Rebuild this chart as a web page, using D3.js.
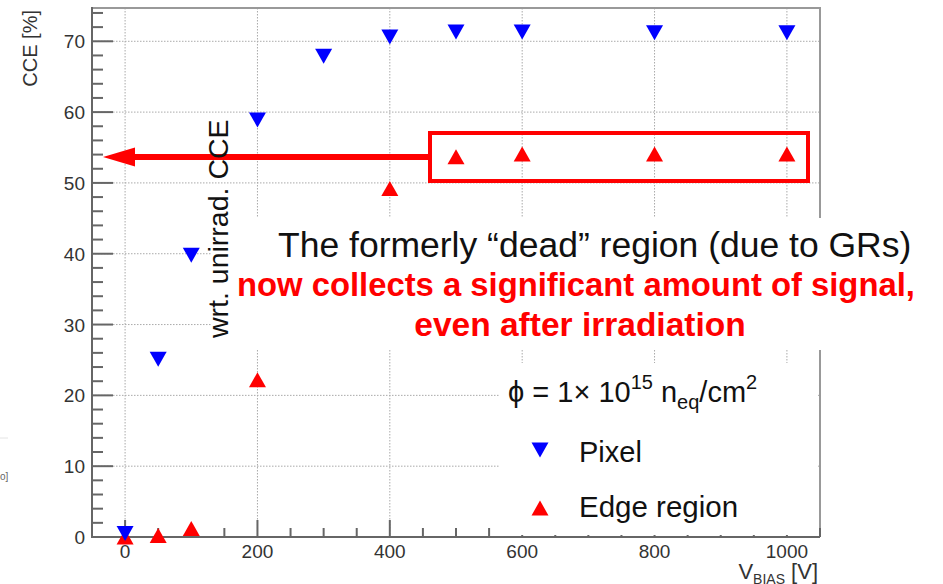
<!DOCTYPE html>
<html lang="en">
<head>
  <meta charset="UTF-8" />
  <title>CCE vs bias voltage</title>
  <script src="https://cdn.jsdelivr.net/npm/d3@7"></script>
  <style>
    body { margin: 0; background: #fff; }
    svg { display: block; font-family: "Liberation Sans", Arial, Helvetica, sans-serif; }
    .tick-label { fill: #333; font-size: 19px; }
    .grid line { stroke: #aaa; stroke-width: 1; stroke-dasharray: 1.5,1.5; }
  </style>
</head>
<body>
<svg width="943" height="584"></svg>

<script>
  // data
  const pixelV = [0, 50, 100, 200, 300, 400, 500, 600, 800, 1000];
  const pixelCCE = [0.5, 25.1, 39.8, 58.9, 67.9, 70.6, 71.3, 71.3, 71.2, 71.2];
  const edgeV = [0, 50, 100, 200, 400, 500, 600, 800, 1000];
  const edgeCCE = [0, 0.2, 1.2, 22.2, 49.2, 53.7, 54.1, 54.1, 54.1];
  const xMajor = [0, 200, 400, 600, 800, 1000];
  const yMajor = [0, 10, 20, 30, 40, 50, 60, 70];

  const svg = d3.select('svg');
  const pL = 92, pR = 820, pT = 8, pB = 537;

  const x = d3.scaleLinear().domain([-50, 1050]).range([pL, pR]);
  const y = d3.scaleLinear().domain([0, 74.7]).range([pB, pT]);

  // grid
  const grid = svg.append("g").attr("class", "grid");
  grid.selectAll("line.v").data(xMajor).enter().append("line")
    .attr("x1", d => x(d)).attr("x2", d => x(d))
    .attr("y1", pT).attr("y2", pB);
  grid.selectAll("line.h").data(yMajor.slice(1)).enter().append("line")
    .attr("x1", pL).attr("x2", pR)
    .attr("y1", d => y(d)).attr("y2", d => y(d));

  // frame (top / right)
  svg.append("path")
    .attr("d", `M${pL},${pT}H${pR}V${pB}`)
    .attr("fill", "none").attr("stroke", "#999").attr("stroke-width", 2);

  // axes
  const axisG = svg.append("g").attr("stroke", "#666").attr("stroke-width", 2);
  axisG.append("line").attr("x1", pL).attr("x2", pL).attr("y1", pT - 1).attr("y2", pB + 1);
  axisG.append("line").attr("x1", pL - 1).attr("x2", pR).attr("y1", pB).attr("y2", pB);

  const yMinor = d3.range(0, 75, 2).filter(v => v % 10 !== 0);
  axisG.selectAll("line.ym").data(yMajor).enter().append("line")
    .attr("x1", pL).attr("x2", pL + 21).attr("y1", d => y(d)).attr("y2", d => y(d));
  axisG.selectAll("line.yn").data(yMinor).enter().append("line")
    .attr("x1", pL).attr("x2", pL + 11).attr("y1", d => y(d)).attr("y2", d => y(d));

  const xMinor = d3.range(-50, 1051, 50).filter(v => v % 200 !== 0);
  axisG.selectAll("line.xm").data(xMajor).enter().append("line")
    .attr("x1", d => x(d)).attr("x2", d => x(d)).attr("y1", pB).attr("y2", pB - 17);
  axisG.selectAll("line.xn").data(xMinor).enter().append("line")
    .attr("x1", d => x(d)).attr("x2", d => x(d)).attr("y1", pB).attr("y2", pB - 9);

  // tick labels
  svg.selectAll("text.yl").data(yMajor).enter().append("text")
    .attr("class", "tick-label")
    .attr("x", 85).attr("y", d => y(d) + 7)
    .attr("text-anchor", "end")
    .text(d => d);
  svg.selectAll("text.xl").data(xMajor).enter().append("text")
    .attr("class", "tick-label")
    .attr("x", d => x(d)).attr("y", 558)
    .attr("text-anchor", "middle")
    .text(d => d);

  // axis titles
  svg.append("text")
    .attr("transform", "translate(37,10) rotate(-90)")
    .attr("text-anchor", "end").attr("fill", "#333").attr("font-size", 20)
    .text("CCE [%]");
  const xt = svg.append("text").attr("x", 818).attr("y", 579)
    .attr("text-anchor", "end").attr("fill", "#333").attr("font-size", 22);
  xt.append("tspan").text("V");
  xt.append("tspan").attr("font-size", 14).attr("dy", 5).text("BIAS");
  xt.append("tspan").attr("dy", -5).text(" [V]");

  // white boxes of the overlaid annotation and legend
  svg.append("rect").attr("x", 212).attr("y", 218).attr("width", 731).attr("height", 132).attr("fill", "#fff");
  svg.append("rect").attr("x", 500).attr("y", 363).attr("width", 318).attr("height", 172).attr("fill", "#fff");

  // markers
  const triDown = "M-8.5,-7.5L8.5,-7.5L0,7.5Z";
  const triUp = "M-8.5,7.5L8.5,7.5L0,-7.5Z";

  svg.append("g").selectAll("path")
    .data(edgeV.map((v, i) => [v, edgeCCE[i]]))
    .enter().append("path")
    .attr("d", triUp).attr("fill", "#ff0000")
    .attr("transform", d => `translate(${x(d[0])},${y(d[1])})`);

  svg.append("g").selectAll("path")
    .data(pixelV.map((v, i) => [v, pixelCCE[i]]))
    .enter().append("path")
    .attr("d", triDown).attr("fill", "#0000ff")
    .attr("transform", d => `translate(${x(d[0])},${y(d[1])})`);

  // red box + arrow
  svg.append("rect").attr("x", 430).attr("y", 133).attr("width", 378).attr("height", 48)
    .attr("fill", "none").attr("stroke", "#ff0000").attr("stroke-width", 4);
  svg.append("line").attr("x1", 132).attr("x2", 432).attr("y1", 157).attr("y2", 157)
    .attr("stroke", "#ff0000").attr("stroke-width", 6);
  svg.append("path").attr("d", "M103,157L135,147.5L135,166.5Z").attr("fill", "#ff0000");

  // rotated note
  svg.append("text")
    .attr("transform", "translate(228,338) rotate(-90)")
    .attr("font-size", 28.5).attr("fill", "#111")
    .text("wrt. unirrad. CCE");

  // annotation text
  svg.append("text").attr("x", 278).attr("y", 257)
    .attr("font-size", 35.5).attr("fill", "#111")
    .text("The formerly \u201cdead\u201d region (due to GRs)");
  svg.append("text").attr("x", 237).attr("y", 296)
    .attr("font-size", 32.8).attr("font-weight", "bold").attr("fill", "#ff0000")
    .text("now collects a significant amount of signal,");
  svg.append("text").attr("x", 580).attr("y", 336)
    .attr("text-anchor", "middle")
    .attr("font-size", 33.5).attr("font-weight", "bold").attr("fill", "#ff0000")
    .text("even after irradiation");

  // legend
  const phi = svg.append("text").attr("x", 508).attr("y", 402)
    .attr("font-size", 29).attr("fill", "#111");
  phi.append("tspan").text("\u03d5 = 1\u00d7 10");
  phi.append("tspan").attr("font-size", 20).attr("dy", -13).text("15");
  phi.append("tspan").attr("dy", 13).text(" n");
  phi.append("tspan").attr("font-size", 20).attr("dy", 7).text("eq");
  phi.append("tspan").attr("dy", -7).text("/cm");
  phi.append("tspan").attr("font-size", 20).attr("dy", -13).text("2");

  svg.append("path").attr("d", triDown).attr("fill", "#0000ff").attr("transform", "translate(540,450)");
  svg.append("path").attr("d", triUp).attr("fill", "#ff0000").attr("transform", "translate(540,508)");
  svg.append("text").attr("x", 579).attr("y", 462).attr("font-size", 29).attr("fill", "#111").text("Pixel");
  svg.append("text").attr("x", 579).attr("y", 517).attr("font-size", 29.5).attr("fill", "#111").text("Edge region");

  // faint leftover at left margin
  svg.append("line").attr("x1", 0).attr("x2", 8).attr("y1", 438).attr("y2", 438).attr("stroke", "#e4e4e4");
  svg.append("text").attr("x", 0).attr("y", 480).attr("font-size", 10).attr("fill", "#666").text("o]");
</script>

</body>
</html>
